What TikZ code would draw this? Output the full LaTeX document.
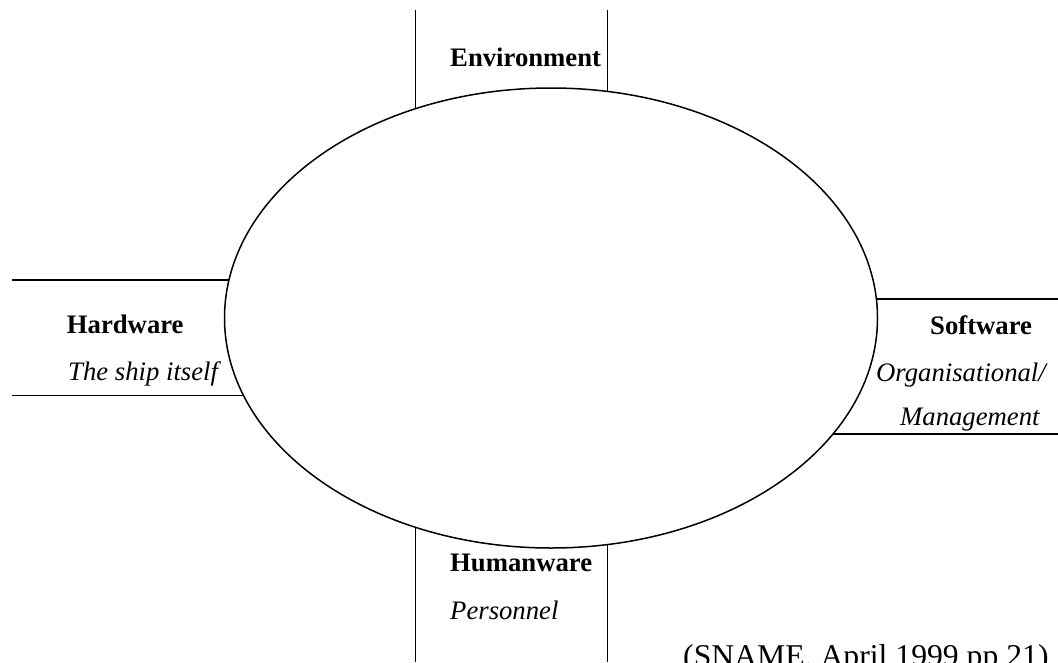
\documentclass[tikz,border=0pt]{standalone}
\usepackage{fontspec}
\setmainfont{Liberation Serif}
\usetikzlibrary{shapes.geometric}
\newcommand{\ecx}{551}
\newcommand{\ecy}{318}
\newcommand{\erx}{326.5}
\newcommand{\ery}{230}
\tikzset{
  lbl/.style={anchor=base west, inner sep=0pt, font=\fontsize{26.7}{32}\selectfont},
  ttl/.style={lbl, font=\fontsize{26.7}{32}\selectfont\bfseries},
  sub/.style={lbl, font=\fontsize{26.7}{32}\selectfont\itshape},
  ln/.style={line width=1.5pt, black},
}
\begin{document}
\begin{tikzpicture}[x=1pt,y=-1pt]
\useasboundingbox (0,0) rectangle (1058,662);
\clip (0,0) rectangle (1058,662);
% ellipse
\node[draw, ellipse, line width=1.5pt, minimum width=653pt, minimum height=460pt, inner sep=0pt] (E) at (\ecx,\ecy) {};
% top band
\coordinate (t1a) at (415.7,10);
\coordinate (t1b) at ({415.7},{\ecy-\ery*sqrt(1-((415.7-\ecx)/\erx)^2)});
\coordinate (t2a) at (607.7,10);
\coordinate (t2b) at ({607.7},{\ecy-\ery*sqrt(1-((607.7-\ecx)/\erx)^2)});
\draw[ln] (t1a) -- (t1b);
\draw[ln] (t2a) -- (t2b);
% bottom band
\coordinate (b1a) at (415.7,662);
\coordinate (b1b) at ({415.7},{\ecy+\ery*sqrt(1-((415.7-\ecx)/\erx)^2)});
\coordinate (b2a) at (607.7,662);
\coordinate (b2b) at ({607.7},{\ecy+\ery*sqrt(1-((607.7-\ecx)/\erx)^2)});
\draw[ln] (b1a) -- (b1b);
\draw[ln] (b2a) -- (b2b);
% left band
\coordinate (l1a) at (12,280);
\coordinate (l1b) at ({\ecx-\erx*sqrt(1-((280-\ecy)/\ery)^2)},280);
\coordinate (l2a) at (12,395.7);
\coordinate (l2b) at ({\ecx-\erx*sqrt(1-((395.7-\ecy)/\ery)^2)},395.7);
\draw[ln] (l1a) -- (l1b);
\draw[ln] (l2a) -- (l2b);
% right band
\coordinate (r1a) at (1058,299);
\coordinate (r1b) at ({\ecx+\erx*sqrt(1-((299-\ecy)/\ery)^2)},299);
\coordinate (r2a) at (1058,434);
\coordinate (r2b) at ({\ecx+\erx*sqrt(1-((434-\ecy)/\ery)^2)},434);
\draw[ln] (r1b) -- (r1a);
\draw[ln] (r2b) -- (r2a);
% labels
\node[ttl] (env) at (450,66.7) {Environment};
\node[ttl] (hw) at (66.7,333.3) {Hardware};
\node[sub] (hws) at (68,380) {The ship itself};
\node[ttl] (sw) at (930,334) {Software};
\node[sub] (sws1) at (876,381.7) {Organisational/};
\node[sub] (sws2) at (900,425) {Management};
\node[ttl] (hu) at (450,571.7) {Humanware};
\node[sub] (hus) at (450,619.3) {Personnel};
\node[anchor=base west, inner sep=0pt, font=\fontsize{31.7}{38}\selectfont] (src) at (683,666) {(SNAME, April 1999 pp 21)};
\end{tikzpicture}
\end{document}
